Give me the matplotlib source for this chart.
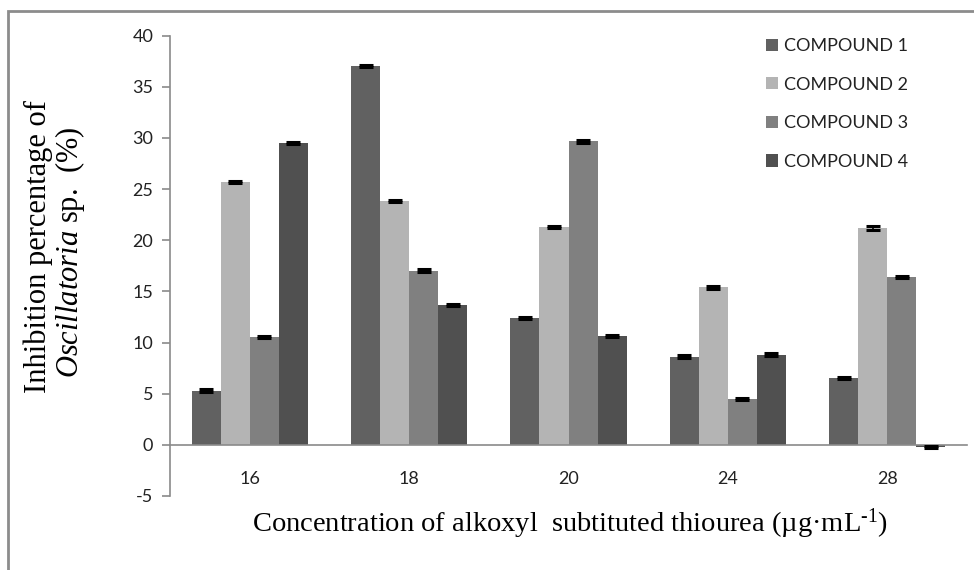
import matplotlib
matplotlib.use("Agg")
import matplotlib.pyplot as plt
import matplotlib.patches as mpatches
import numpy as np

plt.rcParams['mathtext.fontset'] = 'custom'
plt.rcParams['mathtext.rm'] = 'Liberation Serif'
plt.rcParams['mathtext.it'] = 'Liberation Serif:italic'

categories = ['16', '18', '20', '24', '28']
series_names = ['COMPOUND 1', 'COMPOUND 2', 'COMPOUND 3', 'COMPOUND 4']
compound1 = [5.3, 37.0, 12.4, 8.6, 6.5]
compound2 = [25.7, 23.8, 21.3, 15.4, 21.2]
compound3 = [10.5, 17.0, 29.7, 4.5, 16.4]
compound4 = [29.5, 13.7, 10.6, 8.8, -0.2]
errors1 = [0.15, 0.1, 0.1, 0.15, 0.1]
errors2 = [0.1, 0.1, 0.1, 0.15, 0.15]
errors3 = [0.1, 0.15, 0.15, 0.1, 0.1]
errors4 = [0.1, 0.1, 0.1, 0.15, 0.1]
yticks = [-5, 0, 5, 10, 15, 20, 25, 30, 35, 40]

colors = ['#616161', '#b4b4b4', '#808080', '#505050']
series = [compound1, compound2, compound3, compound4]
errs = [errors1, errors2, errors3, errors4]

W, H = 974, 570
fig = plt.figure(figsize=(W / 100, H / 100), dpi=100)
ax = fig.add_axes([170 / W, 74 / H, (967 - 170) / W, (534.3 - 74) / H])

for s in ['top', 'right']:
    ax.spines[s].set_visible(False)
ax.spines['bottom'].set_position(('data', 0))
ax.spines['bottom'].set_color('#8a8a8a')
ax.spines['bottom'].set_linewidth(1.2)
ax.spines['left'].set_color('#8a8a8a')
ax.spines['left'].set_linewidth(1.2)

x = np.arange(len(categories))
w = 0.182
for i, (vals, er, c, name) in enumerate(zip(series, errs, colors, series_names)):
    ax.bar(x + (i - 1.5) * w, vals, width=w, color=c, edgecolor='none', label=name, zorder=2)
    ax.errorbar(x + (i - 1.5) * w, vals, yerr=er, fmt='none', ecolor='black',
                elinewidth=1.2, capsize=5, capthick=2.2, zorder=3)

ax.set_xlim(-0.5, len(categories) - 0.5)
ax.set_ylim(-5, 40)
ax.set_yticks(yticks)
ax.set_yticklabels([str(t) for t in yticks], family='Lato', fontsize=13, color='#222222')
ax.set_xticks(x)
ax.set_xticklabels(categories, family='Lato', fontsize=13, color='#222222')
ax.tick_params(axis='y', direction='out', length=6, width=1.2, color='#8a8a8a', pad=6)
ax.tick_params(axis='x', length=0, pad=19)

fig.text(570 / W, 1 - 524 / H, 'Concentration of alkoxyl  subtituted thiourea (µg·mL$^{\\mathregular{‐1}}$)',
         family='Liberation Serif', fontsize=20.5, ha='center', va='center')
fig.text(38 / W, 1 - 247 / H, 'Inhibition percentage of', family='Liberation Serif', fontsize=22,
         rotation=90, ha='center', va='center')
fig.text(70 / W, 1 - 252 / H, '$\\mathit{Oscillatoria}$ sp.  (%)', family='Liberation Serif',
         fontsize=22, rotation=90, ha='center', va='center')

leg = ax.legend(loc='upper left', bbox_to_anchor=(766 / W, 1 - 38 / H), bbox_transform=fig.transFigure,
                frameon=False, prop={'family': 'Lato', 'size': 13}, handlelength=0.67, handleheight=0.67,
                handletextpad=0.35, labelspacing=1.25, borderpad=0, borderaxespad=0)
for t in leg.get_texts():
    t.set_color('#222222')

frame = mpatches.Rectangle((8 / W, -0.1), 1.2, 1.1 - 11 / H, transform=fig.transFigure,
                           fill=False, edgecolor='#8c8c8c', linewidth=2, zorder=0)
fig.patches.append(frame)

fig.savefig('out.png', dpi=100)
